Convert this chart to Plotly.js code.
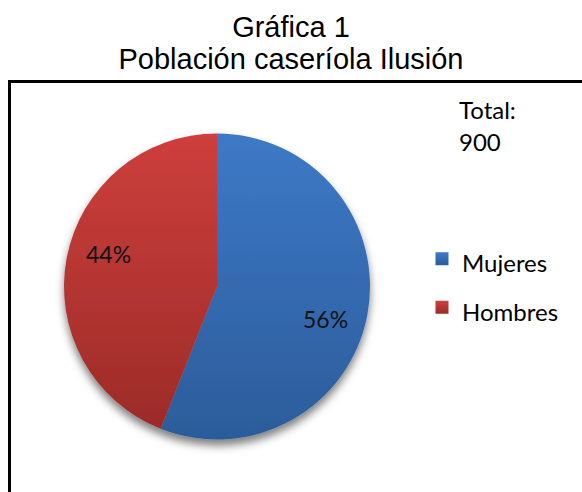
<!DOCTYPE html>
<html>
<head>
<meta charset="utf-8">
<script src="https://cdn.plot.ly/plotly-3.0.1.min.js"></script>
<style>
html,body{margin:0;padding:0;background:#fff;}
#chart{width:582px;height:492px;}
</style>
</head>
<body>
<div id="chart"></div>
<script>
var categories = ["Mujeres", "Hombres"];
var values = [504, 396];
var colors = ["#3468AE", "#BA3733"];
var gradTop = ["#3D79C7", "#CD3F3C"];
var gradBottom = ["#2C5C9A", "#9C2B28"];
var titleLines = ["Gráfica 1", "Población caseríola Ilusión"];
var totalLabel = "Total:";

var total = values.reduce(function (a, b) { return a + b; }, 0);
var lblFont = "Lato, 'Noto Sans', sans-serif";

// pie geometry in pixels (layout only)
var W = 582, H = 492;
var pieBox = { x0: 64, x1: 370, y0: 133, y1: 440 };
var cx = (pieBox.x0 + pieBox.x1) / 2, cy = (pieBox.y0 + pieBox.y1) / 2;
var R = (pieBox.x1 - pieBox.x0) / 2;
var labelRadius = 0.74, labelAngleShift = 6;

var trace = {
  type: "pie",
  labels: categories.map(function (c) { return '<span style="font-size:24px">' + c + '</span>'; }),
  values: values,
  sort: false,
  direction: "clockwise",
  rotation: 0,
  marker: { colors: colors, line: { width: 0 } },
  textinfo: "none",
  domain: { x: [pieBox.x0 / W, pieBox.x1 / W], y: [1 - pieBox.y1 / H, 1 - pieBox.y0 / H] },
  hoverinfo: "value+percent"
};

// percentage labels placed at each slice's angle, computed from the values
var annotations = [];
var cum = 0;
values.forEach(function (v) {
  var frac = v / total;
  var mid = (cum + frac / 2) * 360 + labelAngleShift;
  cum += frac;
  var th = mid * Math.PI / 180;
  var px = cx + labelRadius * R * Math.sin(th);
  var py = cy - labelRadius * R * Math.cos(th);
  annotations.push({
    text: Math.round(frac * 100) + "%",
    x: px / W, y: 1 - py / H, xref: "paper", yref: "paper",
    xanchor: "center", yanchor: "middle", showarrow: false,
    font: { family: lblFont, size: 23, color: "#111" }
  });
});
annotations.push(
  { text: totalLabel, x: 457 / W, y: 1 - 109 / H, xref: "paper", yref: "paper",
    xanchor: "left", yanchor: "middle", showarrow: false,
    font: { family: lblFont, size: 24, color: "#000" } },
  { text: String(total), x: 457 / W, y: 1 - 142 / H, xref: "paper", yref: "paper",
    xanchor: "left", yanchor: "middle", showarrow: false,
    font: { family: lblFont, size: 24, color: "#000" } }
);

var layout = {
  width: W,
  height: H,
  margin: { l: 0, r: 0, t: 0, b: 0 },
  paper_bgcolor: "#ffffff",
  title: {
    text: titleLines.map(function (t) { return '<span style="font-size:29px">' + t + '</span>'; }).join("<br>"),
    font: { family: "'Liberation Sans', Arial, sans-serif", size: 24.6, color: "#000" },
    x: 0.5, xanchor: "center", xref: "paper",
    y: 1 - 37 / H, yanchor: "top", yref: "container"
  },
  showlegend: true,
  legend: {
    x: 422 / W, xanchor: "left",
    y: 1 - 283 / H, yanchor: "middle",
    font: { family: lblFont, size: 35, color: "#000" },
    bgcolor: "rgba(0,0,0,0)"
  },
  shapes: [{
    type: "rect", xref: "paper", yref: "paper",
    x0: 9.5 / W, x1: 1.05, y0: -0.1, y1: 1 - 81.5 / H,
    line: { color: "#000", width: 3 }, fillcolor: "rgba(0,0,0,0)", layer: "below"
  }],
  annotations: annotations
};

function decorate(gd) {
  try {
    var NS = "http://www.w3.org/2000/svg";
    var svg = gd.querySelector("svg.main-svg");
    var defs = svg.querySelector("defs") || svg.insertBefore(document.createElementNS(NS, "defs"), svg.firstChild);
    if (!document.getElementById("pieShadow")) {
      categories.forEach(function (c, i) {
        var g = document.createElementNS(NS, "linearGradient");
        g.setAttribute("id", "sliceGrad" + i);
        g.setAttribute("x1", "0"); g.setAttribute("y1", "0");
        g.setAttribute("x2", "0"); g.setAttribute("y2", "1");
        [[0, gradTop[i]], [1, gradBottom[i]]].forEach(function (s) {
          var st = document.createElementNS(NS, "stop");
          st.setAttribute("offset", s[0]);
          st.setAttribute("stop-color", s[1]);
          g.appendChild(st);
        });
        defs.appendChild(g);
      });
      var f = document.createElementNS(NS, "filter");
      f.setAttribute("id", "pieShadow");
      f.setAttribute("x", "-20%"); f.setAttribute("y", "-20%");
      f.setAttribute("width", "140%"); f.setAttribute("height", "140%");
      var ds = document.createElementNS(NS, "feDropShadow");
      ds.setAttribute("dx", "0"); ds.setAttribute("dy", "6");
      ds.setAttribute("stdDeviation", "4");
      ds.setAttribute("flood-color", "#000");
      ds.setAttribute("flood-opacity", "0.5");
      f.appendChild(ds);
      defs.appendChild(f);
    }
    var layer = gd.querySelector(".pielayer");
    if (layer) layer.setAttribute("filter", "url(#pieShadow)");
    gd.querySelectorAll(".pielayer .slice path.surface").forEach(function (p, i) {
      p.style.fill = "url(#sliceGrad" + i + ")";
    });
    gd.querySelectorAll(".legendpoints path").forEach(function (p, i) {
      p.setAttribute("d", "M6.5,6.5H-6.5V-6.5H6.5Z");
      p.style.fill = "url(#sliceGrad" + i + ")";
    });
  } catch (e) { /* keep the plain chart if decoration fails */ }
}

var gdEl = document.getElementById("chart");
Plotly.newPlot(gdEl, [trace], layout, { displayModeBar: false, staticPlot: true }).then(function (gd) {
  decorate(gd);
  gd.on("plotly_afterplot", function () { decorate(gd); });
  setTimeout(function () { decorate(gd); }, 0);
});
</script>
</body>
</html>
